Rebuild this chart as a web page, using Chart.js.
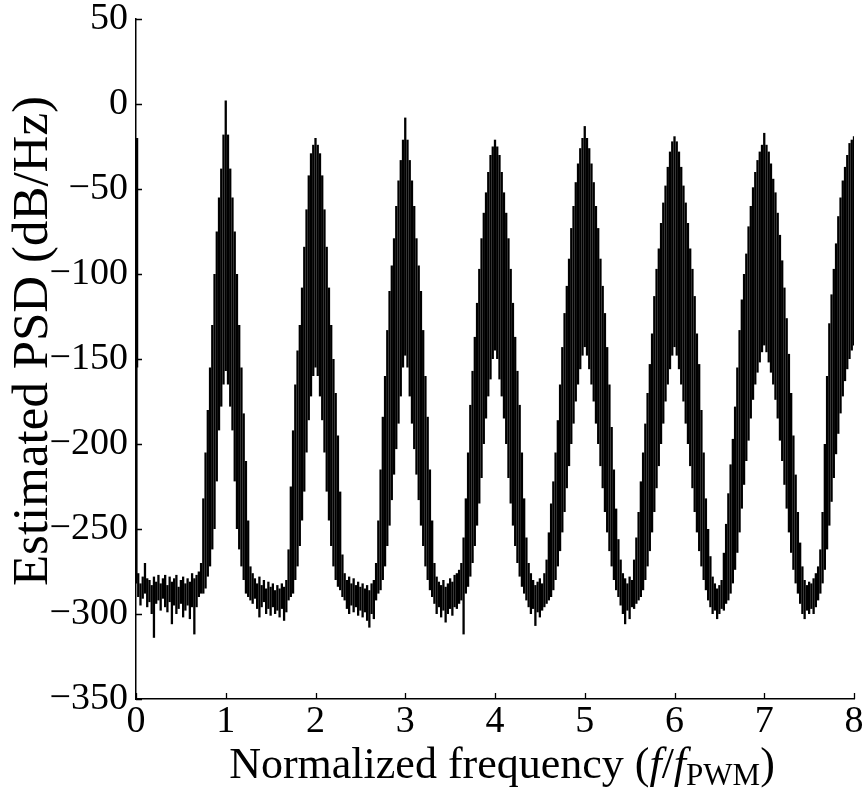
<!DOCTYPE html>
<html>
<head>
<meta charset="utf-8">
<script src="https://cdn.jsdelivr.net/npm/chart.js@4/dist/chart.umd.min.js"></script>
<style>
  html, body { margin: 0; padding: 0; background: #fff; }
  canvas { display: block; }
</style>
</head>
<body>
<canvas id="psd" width="864" height="788"></canvas>
<script>
// frequency bins are 0.025 f/fPWM apart, 0 .. 8
const binWidth = 0.025;

// top of each bin (dB/Hz), one row per unit of normalized frequency
const upper0 = [-20,-276,-282,-278,-270,-279,-280,-283,-278,-281,-277,-282,-279,-277,-283,-278,-281,-279,-277,-284,-280,-278,-282,-279,-281,-276,-279,-277,-275,-270,-232,-205,-180,-155,-130,-100,-75,-55,-38,-18];
const upper1 = [2,-18,-38,-55,-75,-100,-130,-155,-182,-210,-245,-272,-276,-279,-282,-278,-283,-280,-285,-281,-284,-282,-286,-283,-285,-282,-284,-280,-262,-225,-192,-165,-145,-130,-108,-84,-62,-42,-29,-24];
const upper2 = [-20,-24,-29,-42,-62,-84,-108,-130,-150,-170,-195,-228,-265,-276,-280,-278,-282,-279,-283,-281,-284,-282,-285,-283,-286,-282,-280,-270,-245,-215,-184,-160,-133,-110,-95,-79,-60,-45,-33,-21];
const upper3 = [-8,-21,-33,-45,-60,-79,-95,-110,-133,-160,-184,-215,-245,-270,-278,-281,-283,-280,-284,-282,-279,-281,-277,-276,-274,-270,-255,-232,-205,-177,-157,-137,-117,-97,-79,-64,-52,-40,-30,-25];
const upper4 = [-21,-25,-30,-40,-52,-64,-79,-97,-117,-137,-157,-177,-205,-232,-255,-270,-276,-280,-283,-281,-279,-282,-276,-268,-252,-235,-222,-205,-186,-165,-143,-123,-107,-91,-73,-60,-46,-35,-26,-20];
const upper5 = [-13,-20,-26,-35,-46,-60,-73,-91,-107,-123,-143,-165,-190,-215,-238,-256,-268,-276,-279,-282,-278,-280,-268,-255,-240,-222,-205,-188,-170,-153,-135,-113,-97,-85,-70,-58,-48,-37,-28,-22];
const upper6 = [-19,-22,-28,-37,-48,-58,-70,-85,-97,-113,-135,-153,-180,-205,-232,-250,-266,-278,-282,-285,-283,-280,-264,-247,-229,-212,-197,-178,-155,-133,-115,-100,-88,-72,-60,-49,-40,-33,-28,-24];
const upper7 = [-17,-24,-28,-35,-44,-52,-64,-77,-92,-108,-126,-147,-170,-195,-218,-240,-258,-272,-280,-283,-281,-282,-279,-276,-272,-262,-240,-200,-160,-129,-112,-97,-82,-66,-55,-45,-37,-30,-23,-21,-19];

// bottom of each bin (dB/Hz)
const lower0 = [-282,-290,-295,-291,-288,-296,-293,-300,-314,-294,-292,-298,-291,-296,-299,-293,-306,-295,-300,-297,-294,-302,-298,-295,-303,-296,-312,-296,-290,-288,-288,-285,-278,-272,-262,-250,-222,-192,-178,-165];
const lower1 = [-157,-165,-178,-192,-222,-250,-262,-272,-280,-288,-290,-292,-294,-291,-297,-302,-296,-293,-300,-297,-301,-296,-300,-298,-302,-297,-304,-299,-292,-290,-288,-280,-272,-260,-245,-228,-205,-186,-172,-160];
const lower2 = [-155,-160,-172,-186,-205,-228,-245,-260,-272,-280,-284,-286,-290,-292,-297,-300,-295,-299,-296,-301,-298,-302,-299,-304,-308,-300,-303,-292,-288,-286,-280,-272,-260,-248,-233,-218,-203,-188,-172,-155];
const lower3 = [-148,-155,-172,-188,-203,-218,-233,-248,-260,-272,-280,-286,-290,-294,-300,-296,-302,-298,-305,-300,-297,-301,-296,-297,-294,-292,-312,-288,-284,-278,-270,-260,-248,-235,-220,-200,-185,-172,-162,-150];
const lower4 = [-145,-150,-162,-172,-185,-200,-220,-235,-248,-260,-270,-278,-284,-288,-292,-296,-300,-297,-307,-299,-302,-298,-296,-294,-292,-290,-286,-280,-272,-263,-252,-240,-226,-213,-200,-188,-175,-165,-156,-148];
const lower5 = [-143,-148,-156,-165,-175,-188,-200,-213,-226,-240,-252,-263,-272,-280,-286,-290,-295,-300,-306,-298,-303,-296,-297,-294,-292,-290,-286,-280,-272,-263,-252,-240,-226,-213,-200,-188,-175,-165,-156,-148];
const lower6 = [-143,-148,-156,-165,-175,-188,-200,-213,-226,-240,-252,-263,-272,-280,-286,-292,-296,-300,-298,-303,-300,-297,-298,-294,-292,-288,-282,-274,-264,-252,-238,-224,-210,-198,-185,-174,-165,-158,-152,-146];
const lower7 = [-142,-146,-152,-158,-165,-174,-185,-198,-210,-224,-238,-252,-264,-274,-282,-288,-294,-300,-303,-298,-300,-297,-300,-296,-292,-288,-282,-274,-262,-248,-234,-220,-206,-194,-182,-172,-163,-156,-150,-145,-142];

// the DC lines right next to the axis
const dcFreq = [0.008, 0.016];
const dcUpper = [-37, -20];
const dcLower = [-280, -155];

const xTicks = [0, 1, 2, 3, 4, 5, 6, 7, 8];
const yTicks = [50, 0, -50, -100, -150, -200, -250, -300, -350];

const upper = [].concat(upper0, upper1, upper2, upper3, upper4, upper5, upper6, upper7);
const lower = [].concat(lower0, lower1, lower2, lower3, lower4, lower5, lower6, lower7);
const psd = upper.map((hi, i) => ({ x: i * binWidth, y: [lower[i], hi] }));
const dc = dcFreq.map((f, i) => ({ x: f, y: [dcLower[i], dcUpper[i]] }));

const serif = '"Liberation Serif", "Times New Roman", serif';

// ticks drawn inward, like the original figure
const innerTicks = {
  id: 'innerTicks',
  afterDatasetsDraw(chart) {
    const { ctx, chartArea: a, scales: { x, y } } = chart;
    ctx.save();
    ctx.strokeStyle = '#000';
    ctx.lineWidth = 1.3;
    ctx.beginPath();
    xTicks.forEach(v => {
      const px = Math.round(x.getPixelForValue(v)) + 0.5;
      ctx.moveTo(px, a.bottom);
      ctx.lineTo(px, a.bottom - 6);
    });
    yTicks.forEach(v => {
      const py = Math.round(y.getPixelForValue(v)) + 0.5;
      ctx.moveTo(a.left, py);
      ctx.lineTo(a.left + 6, py);
    });
    ctx.stroke();
    ctx.restore();
  }
};

// axis titles; the x one has an italic f and a subscript PWM
const axisTitles = {
  id: 'axisTitles',
  afterDraw(chart) {
    const { ctx } = chart;
    const size = 44;
    const parts = [
      { t: 'Normalized frequency (', f: `${size}px ${serif}`, dy: 0 },
      { t: 'f', f: `italic ${size}px ${serif}`, dy: 0 },
      { t: '/', f: `${size}px ${serif}`, dy: 0 },
      { t: 'f', f: `italic ${size}px ${serif}`, dy: 0 },
      { t: 'PWM', f: `${Math.round(size * 0.7)}px ${serif}`, dy: 7 },
      { t: ')', f: `${size}px ${serif}`, dy: 0 }
    ];
    ctx.save();
    ctx.fillStyle = '#000';
    ctx.textBaseline = 'alphabetic';
    let total = 0;
    parts.forEach(p => { ctx.font = p.f; p.w = ctx.measureText(p.t).width; total += p.w; });
    let cx = 502 - total / 2;
    parts.forEach(p => {
      ctx.font = p.f;
      ctx.fillText(p.t, cx, 778 + p.dy);
      cx += p.w;
    });

    ctx.translate(34, 341);
    ctx.rotate(-Math.PI / 2);
    ctx.font = `51px ${serif}`;
    ctx.textAlign = 'center';
    ctx.textBaseline = 'middle';
    ctx.fillText('Estimated PSD (dB/Hz)', 0, 0);
    ctx.restore();
  }
};

const ctx = document.getElementById('psd').getContext('2d');
new Chart(ctx, {
  type: 'bar',
  data: {
    datasets: [{
      data: psd,
      backgroundColor: '#000',
      borderWidth: 0,
      barThickness: 2.3,
      inflateAmount: 0
    }, {
      data: dc,
      backgroundColor: '#000',
      borderWidth: 0,
      barThickness: 1.6,
      inflateAmount: 0,
      grouped: false
    }]
  },
  options: {
    responsive: false,
    animation: false,
    devicePixelRatio: 1,
    layout: { padding: { top: 19, right: 10, left: 0, bottom: 0 } },
    plugins: {
      legend: { display: false },
      tooltip: { enabled: false }
    },
    scales: {
      x: {
        type: 'linear',
        min: 0,
        max: 8,
        offset: false,
        grid: { display: false, drawTicks: false, offset: false },
        border: { display: true, color: '#000', width: 1.5 },
        afterBuildTicks: s => { s.ticks = xTicks.map(v => ({ value: v })); },
        ticks: {
          color: '#000',
          font: { family: serif, size: 38 },
          padding: 0,
          maxRotation: 0,
          autoSkip: false
        },
        afterFit: s => { s.height = 89; s.paddingLeft = 0; s.paddingRight = 0; }
      },
      y: {
        min: -350,
        max: 50,
        grid: { display: false, drawTicks: false },
        border: { display: true, color: '#000', width: 1.5 },
        afterBuildTicks: s => { s.ticks = yTicks.map(v => ({ value: v })); },
        ticks: {
          color: '#000',
          font: { family: serif, size: 38 },
          padding: 8,
          autoSkip: false,
          callback: v => (v < 0 ? '\u2212' + Math.abs(v) : String(v))
        },
        afterFit: s => { s.width = 136; s.paddingTop = 0; s.paddingBottom = 0; }
      }
    }
  },
  plugins: [innerTicks, axisTitles]
});
</script>
</body>
</html>
